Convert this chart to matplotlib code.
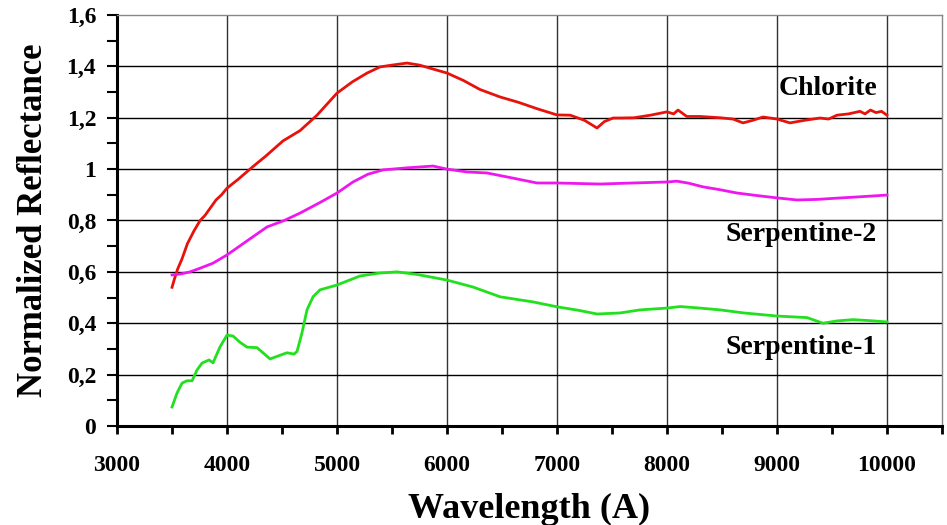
import matplotlib
matplotlib.use("Agg")
import matplotlib.pyplot as plt
from matplotlib.ticker import MultipleLocator, FuncFormatter

chlorite_x = [3500, 3520, 3550, 3590, 3640, 3700, 3755, 3800, 3850, 3900, 3950, 4000,
              4100, 4236, 4350, 4509, 4664, 4818, 5000, 5140, 5273, 5391, 5500, 5636,
              5750, 5870, 6000, 6150, 6300, 6482, 6650, 6820, 7000, 7120, 7250, 7364,
              7430, 7510, 7573, 7700, 7850, 8000, 8060, 8100, 8180, 8300, 8482, 8600,
              8691, 8780, 8873, 9000, 9118, 9250, 9391, 9470, 9545, 9650, 9755, 9800,
              9850, 9900, 9950, 10000]
chlorite_y = [0.54, 0.57, 0.61, 0.65, 0.71, 0.76, 0.80, 0.82, 0.85, 0.88, 0.90, 0.926,
              0.96, 1.01, 1.05, 1.11, 1.15, 1.21, 1.296, 1.34, 1.374, 1.398, 1.405, 1.413,
              1.405, 1.39, 1.374, 1.345, 1.31, 1.281, 1.26, 1.235, 1.211, 1.21, 1.19, 1.16,
              1.185, 1.199, 1.199, 1.20, 1.21, 1.223, 1.215, 1.23, 1.205, 1.205, 1.20, 1.195,
              1.18, 1.19, 1.203, 1.195, 1.18, 1.19, 1.199, 1.195, 1.21, 1.215, 1.225, 1.215,
              1.23, 1.22, 1.225, 1.21]

serp2_x = [3500, 3580, 3664, 3760, 3873, 4000, 4180, 4364, 4520, 4664, 4845, 5000,
           5145, 5280, 5418, 5636, 5873, 6000, 6182, 6364, 6600, 6818, 7000, 7391,
           7691, 8000, 8090, 8200, 8327, 8480, 8636, 8820, 9000, 9182, 9360, 9545,
           9780, 10000]
serp2_y = [0.588, 0.592, 0.60, 0.615, 0.634, 0.666, 0.72, 0.775, 0.80, 0.829, 0.87, 0.907,
           0.95, 0.98, 0.997, 1.005, 1.012, 1.0, 0.989, 0.985, 0.965, 0.946, 0.946, 0.942,
           0.946, 0.95, 0.953, 0.945, 0.931, 0.92, 0.907, 0.897, 0.888, 0.88, 0.882, 0.887,
           0.893, 0.899]

serp1_x = [3500, 3545, 3591, 3636, 3682, 3727, 3773, 3836, 3873, 3936, 4000, 4055,
           4120, 4182, 4273, 4391, 4480, 4545, 4609, 4636, 4680, 4727, 4782, 4845,
           5000, 5209, 5380, 5545, 5727, 6000, 6236, 6482, 6782, 7000, 7200, 7364,
           7573, 7755, 8000, 8120, 8300, 8482, 8700, 9000, 9273, 9418, 9545, 9691,
           9850, 10000]
serp1_y = [0.074, 0.128, 0.167, 0.176, 0.176, 0.218, 0.245, 0.257, 0.246, 0.308, 0.354, 0.35,
           0.325, 0.307, 0.305, 0.261, 0.275, 0.285, 0.28, 0.29, 0.36, 0.452, 0.503, 0.53,
           0.549, 0.584, 0.595, 0.60, 0.59, 0.568, 0.541, 0.503, 0.483, 0.464, 0.45, 0.436,
           0.44, 0.452, 0.459, 0.465, 0.459, 0.452, 0.44, 0.428, 0.422, 0.40, 0.409, 0.414,
           0.41, 0.405]

series = [
    ("Chlorite", chlorite_x, chlorite_y, "#e8120c", 1.312),
    ("Serpentine-2", serp2_x, serp2_y, "#ee18ee", 0.744),
    ("Serpentine-1", serp1_x, serp1_y, "#22e01e", 0.304),
]

plt.rcParams["font.family"] = ["Liberation Serif", "DejaVu Serif"]
plt.rcParams["font.weight"] = "bold"

fig = plt.figure(figsize=(9.47, 5.25), dpi=100)
ax = fig.add_axes([0.1236, 0.1886, 0.8711, 0.7828])

for name, xs, ys, color, ylab in series:
    ax.plot(xs, ys, color=color, lw=2.0, solid_joinstyle="round")
    ax.text(9910, ylab, name, ha="right", va="center", fontsize=20,
            fontweight="bold", color="black")

ax.set_xlim(3000, 10500)
ax.set_ylim(0, 1.6)
ax.xaxis.set_major_locator(MultipleLocator(1000))
ax.xaxis.set_minor_locator(MultipleLocator(500))
ax.yaxis.set_major_locator(MultipleLocator(0.2))
ax.yaxis.set_minor_locator(MultipleLocator(0.1))
ax.yaxis.set_major_formatter(FuncFormatter(lambda v, p: ("%g" % round(v, 2)).replace(".", ",")))
ax.set_xticks([t for t in range(3000, 10001, 1000)])

for xv in range(4000, 10001, 1000):
    ax.axvline(xv, color="#333333", lw=1.0, zorder=0.5)
for yv in [0.2, 0.4, 0.6, 0.8, 1.0, 1.2, 1.4]:
    ax.axhline(yv, color="black", lw=1.0, zorder=0.5)

ax.tick_params(axis="x", which="both", direction="out", length=6, width=2,
               pad=15, labelsize=17)
ax.tick_params(axis="y", which="both", direction="out", length=7, width=1.5,
               pad=8, labelsize=17)
for lab in ax.get_xticklabels() + ax.get_yticklabels():
    lab.set_fontweight("bold")

ax.spines["left"].set_linewidth(2.2)
ax.spines["bottom"].set_linewidth(2.2)
ax.spines["top"].set_color("#888888")
ax.spines["right"].set_color("#888888")
ax.spines["top"].set_linewidth(1.0)
ax.spines["right"].set_linewidth(1.0)

ax.set_xlabel("Wavelength (A)", fontsize=26, fontweight="bold", labelpad=12)
ax.set_ylabel("Normalized Reflectance", fontsize=25, fontweight="bold", labelpad=12)

fig.savefig("out.png", dpi=100, facecolor="white")
